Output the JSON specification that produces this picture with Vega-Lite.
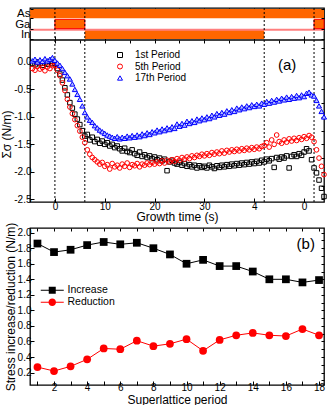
{
  "$schema": "https://vega.github.io/schema/vega-lite/v6.json",
  "padding": {"left": 0, "top": 1, "right": 2, "bottom": 0},
  "spacing": -2,
  "resolve": {"scale": {"color": "independent", "shape": "independent"}, "legend": {"color": "independent", "shape": "independent"}},
  "config": {
    "font": "Liberation Sans",
    "view": {"stroke": "black", "strokeWidth": 1.3},
    "axis": {"domain": false, "grid": false, "tickColor": "black", "tickSize": -4, "tickWidth": 1, "labelPadding": 3, "labelFontSize": 10, "labelColor": "black", "labelFont": "Liberation Sans", "titleFont": "Liberation Sans", "titleFontSize": 12, "titleFontWeight": "normal", "titleColor": "black", "titlePadding": 0}
  },
  "datasets": {
    "shutters": [
      {"s": "As", "t0": -5, "t1": 54},
      {"s": "In", "t0": 6, "t1": 42},
      {"s": "Ga", "t0": 0, "t1": 6},
      {"s": "Ga", "t0": 52, "t1": 54}
    ],
    "vlines": [{"t": 0}, {"t": 6}, {"t": 42}, {"t": 52}],
    "p1": [
      {"t":-4.5,"v":-0.02},{"t":-4,"v":-0.05},{"t":-3.5,"v":0.0},{"t":-3,"v":-0.03},{"t":-2.5,"v":-0.06},{"t":-2,"v":-0.02},{"t":-1.5,"v":-0.04},{"t":-1,"v":0.01},{"t":-0.5,"v":-0.03},{"t":0,"v":-0.03},
      {"t":0.5,"v":-0.12},{"t":1,"v":-0.22},{"t":1.5,"v":-0.33},{"t":2,"v":-0.47},{"t":2.5,"v":-0.6},{"t":3,"v":-0.74},{"t":3.5,"v":-0.84},{"t":4,"v":-0.95},{"t":4.5,"v":-1.04},{"t":5,"v":-1.14},
      {"t":5.5,"v":-1.25},{"t":6,"v":-1.35},{"t":6.5,"v":-1.32},{"t":7,"v":-1.42},{"t":7.5,"v":-1.37},{"t":8,"v":-1.45},{"t":8.5,"v":-1.41},{"t":9,"v":-1.48},{"t":9.5,"v":-1.44},{"t":10,"v":-1.5},
      {"t":10.5,"v":-1.47},{"t":11,"v":-1.53},{"t":11.5,"v":-1.5},{"t":12,"v":-1.56},{"t":12.5,"v":-1.53},{"t":13,"v":-1.58},{"t":13.5,"v":-1.62},{"t":14,"v":-1.57},{"t":14.5,"v":-1.63},{"t":15,"v":-1.65},
      {"t":15.5,"v":-1.6},{"t":16,"v":-1.67},{"t":16.5,"v":-1.7},{"t":17,"v":-1.64},{"t":17.5,"v":-1.72},{"t":18,"v":-1.69},{"t":18.5,"v":-1.74},{"t":19,"v":-1.71},{"t":19.5,"v":-1.76},{"t":20,"v":-1.73},
      {"t":20.5,"v":-1.78},{"t":21,"v":-1.75},{"t":21.5,"v":-1.8},{"t":22,"v":-1.77},{"t":22.5,"v":-1.98},{"t":23,"v":-1.82},{"t":23.5,"v":-1.79},{"t":24,"v":-1.84},{"t":24.5,"v":-1.86},{"t":25,"v":-1.83},
      {"t":25.5,"v":-1.88},{"t":26,"v":-1.85},{"t":26.5,"v":-1.9},{"t":27,"v":-1.87},{"t":27.5,"v":-1.91},{"t":28,"v":-1.88},{"t":28.5,"v":-1.93},{"t":29,"v":-1.89},{"t":29.5,"v":-1.92},{"t":30,"v":-1.9},
      {"t":30.5,"v":-1.93},{"t":31,"v":-1.88},{"t":31.5,"v":-1.91},{"t":32,"v":-1.94},{"t":32.5,"v":-1.89},{"t":33,"v":-1.92},{"t":33.5,"v":-1.88},{"t":34,"v":-1.91},{"t":34.5,"v":-1.87},{"t":35,"v":-1.9},
      {"t":35.5,"v":-1.86},{"t":36,"v":-1.89},{"t":36.5,"v":-1.85},{"t":37,"v":-1.88},{"t":37.5,"v":-1.84},{"t":38,"v":-1.87},{"t":38.5,"v":-1.83},{"t":39,"v":-1.86},{"t":39.5,"v":-1.82},{"t":40,"v":-1.85},
      {"t":40.5,"v":-1.81},{"t":41,"v":-1.84},{"t":41.5,"v":-1.79},{"t":42,"v":-1.82},{"t":42.5,"v":-1.77},{"t":43,"v":-1.8},{"t":43.5,"v":-1.76},{"t":44,"v":-1.92},{"t":44.5,"v":-1.74},{"t":45,"v":-1.77},
      {"t":45.5,"v":-1.73},{"t":46,"v":-1.75},{"t":46.5,"v":-1.71},{"t":47,"v":-1.93},{"t":47.5,"v":-1.72},{"t":48,"v":-1.69},{"t":48.5,"v":-1.72},{"t":49,"v":-1.67},{"t":49.5,"v":-1.7},{"t":50,"v":-1.64},
      {"t":50.5,"v":-1.58},{"t":51,"v":-1.62},{"t":51.5,"v":-1.78},{"t":52,"v":-1.93},{"t":52.5,"v":-2.02},{"t":53,"v":-2.15},{"t":53.5,"v":-2.3},{"t":54,"v":-2.45}
    ],
    "p5": [
      {"t":-4.5,"v":-0.12},{"t":-4,"v":-0.15},{"t":-3.5,"v":-0.08},{"t":-3,"v":-0.13},{"t":-2.5,"v":-0.1},{"t":-2,"v":-0.16},{"t":-1.5,"v":-0.09},{"t":-1,"v":-0.12},{"t":-0.5,"v":-0.07},{"t":0,"v":-0.06},
      {"t":0.5,"v":-0.15},{"t":1,"v":-0.25},{"t":1.5,"v":-0.38},{"t":2,"v":-0.52},{"t":2.5,"v":-0.68},{"t":3,"v":-0.82},{"t":3.5,"v":-0.94},{"t":4,"v":-1.05},{"t":4.5,"v":-1.16},{"t":5,"v":-1.26},
      {"t":5.5,"v":-1.37},{"t":6,"v":-1.47},{"t":6.5,"v":-1.6},{"t":7,"v":-1.68},{"t":7.5,"v":-1.74},{"t":8,"v":-1.78},{"t":8.5,"v":-1.82},{"t":9,"v":-1.86},{"t":9.5,"v":-1.83},{"t":10,"v":-1.9},
      {"t":10.5,"v":-1.87},{"t":11,"v":-1.95},{"t":11.5,"v":-1.85},{"t":12,"v":-1.91},{"t":12.5,"v":-1.88},{"t":13,"v":-1.93},{"t":13.5,"v":-1.86},{"t":14,"v":-1.9},{"t":14.5,"v":-1.84},{"t":15,"v":-1.92},
      {"t":15.5,"v":-1.87},{"t":16,"v":-1.89},{"t":16.5,"v":-1.85},{"t":17,"v":-1.91},{"t":17.5,"v":-1.86},{"t":18,"v":-1.88},{"t":18.5,"v":-1.84},{"t":19,"v":-1.87},{"t":19.5,"v":-1.83},{"t":20,"v":-1.86},
      {"t":20.5,"v":-1.82},{"t":21,"v":-1.85},{"t":21.5,"v":-1.8},{"t":22,"v":-1.84},{"t":22.5,"v":-1.79},{"t":23,"v":-1.82},{"t":23.5,"v":-1.78},{"t":24,"v":-1.81},{"t":24.5,"v":-1.76},{"t":25,"v":-1.79},
      {"t":25.5,"v":-1.74},{"t":26,"v":-1.77},{"t":26.5,"v":-1.73},{"t":27,"v":-1.76},{"t":27.5,"v":-1.71},{"t":28,"v":-1.74},{"t":28.5,"v":-1.7},{"t":29,"v":-1.72},{"t":29.5,"v":-1.68},{"t":30,"v":-1.71},
      {"t":30.5,"v":-1.67},{"t":31,"v":-1.7},{"t":31.5,"v":-1.65},{"t":32,"v":-1.68},{"t":32.5,"v":-1.64},{"t":33,"v":-1.67},{"t":33.5,"v":-1.62},{"t":34,"v":-1.66},{"t":34.5,"v":-1.61},{"t":35,"v":-1.64},
      {"t":35.5,"v":-1.6},{"t":36,"v":-1.63},{"t":36.5,"v":-1.59},{"t":37,"v":-1.62},{"t":37.5,"v":-1.58},{"t":38,"v":-1.61},{"t":38.5,"v":-1.57},{"t":39,"v":-1.6},{"t":39.5,"v":-1.56},{"t":40,"v":-1.59},
      {"t":40.5,"v":-1.55},{"t":41,"v":-1.58},{"t":41.5,"v":-1.54},{"t":42,"v":-1.52},{"t":42.5,"v":-1.47},{"t":43,"v":-1.55},{"t":43.5,"v":-1.42},{"t":44,"v":-1.5},{"t":44.5,"v":-1.33},{"t":45,"v":-1.45},
      {"t":45.5,"v":-1.48},{"t":46,"v":-1.42},{"t":46.5,"v":-1.46},{"t":47,"v":-1.4},{"t":47.5,"v":-1.44},{"t":48,"v":-1.39},{"t":48.5,"v":-1.43},{"t":49,"v":-1.38},{"t":49.5,"v":-1.41},{"t":50,"v":-1.36},
      {"t":50.5,"v":-1.39},{"t":51,"v":-1.34},{"t":51.5,"v":-1.37},{"t":52,"v":-1.45},{"t":52.5,"v":-1.6},{"t":53,"v":-1.75},{"t":53.5,"v":-1.9},{"t":54,"v":-2.05}
    ],
    "p17": [
      {"t":-4.5,"v":0.02},{"t":-4,"v":0.05},{"t":-3.5,"v":0.0},{"t":-3,"v":0.04},{"t":-2.5,"v":0.01},{"t":-2,"v":0.06},{"t":-1.5,"v":0.02},{"t":-1,"v":0.05},{"t":-0.5,"v":0.08},{"t":0,"v":0.03},
      {"t":0.5,"v":-0.02},{"t":1,"v":-0.06},{"t":1.5,"v":-0.12},{"t":2,"v":-0.19},{"t":2.5,"v":-0.25},{"t":3,"v":-0.31},{"t":3.5,"v":-0.4},{"t":4,"v":-0.5},{"t":4.5,"v":-0.59},{"t":5,"v":-0.68},
      {"t":5.5,"v":-0.8},{"t":6,"v":-0.92},{"t":6.5,"v":-1.0},{"t":7,"v":-1.06},{"t":7.5,"v":-1.1},{"t":8,"v":-1.16},{"t":8.5,"v":-1.2},{"t":9,"v":-1.24},{"t":9.5,"v":-1.27},{"t":10,"v":-1.3},
      {"t":10.5,"v":-1.33},{"t":11,"v":-1.35},{"t":11.5,"v":-1.37},{"t":12,"v":-1.39},{"t":12.5,"v":-1.36},{"t":13,"v":-1.4},{"t":13.5,"v":-1.37},{"t":14,"v":-1.39},{"t":14.5,"v":-1.35},{"t":15,"v":-1.38},
      {"t":15.5,"v":-1.34},{"t":16,"v":-1.37},{"t":16.5,"v":-1.33},{"t":17,"v":-1.36},{"t":17.5,"v":-1.31},{"t":18,"v":-1.34},{"t":18.5,"v":-1.29},{"t":19,"v":-1.32},{"t":19.5,"v":-1.27},{"t":20,"v":-1.29},
      {"t":20.5,"v":-1.24},{"t":21,"v":-1.27},{"t":21.5,"v":-1.22},{"t":22,"v":-1.25},{"t":22.5,"v":-1.2},{"t":23,"v":-1.23},{"t":23.5,"v":-1.18},{"t":24,"v":-1.21},{"t":24.5,"v":-1.13},{"t":25,"v":-1.17},
      {"t":25.5,"v":-1.12},{"t":26,"v":-1.15},{"t":26.5,"v":-1.08},{"t":27,"v":-1.12},{"t":27.5,"v":-1.07},{"t":28,"v":-1.1},{"t":28.5,"v":-1.04},{"t":29,"v":-1.07},{"t":29.5,"v":-1.02},{"t":30,"v":-1.05},
      {"t":30.5,"v":-1.0},{"t":31,"v":-1.03},{"t":31.5,"v":-0.97},{"t":32,"v":-1.0},{"t":32.5,"v":-0.94},{"t":33,"v":-0.97},{"t":33.5,"v":-0.92},{"t":34,"v":-0.95},{"t":34.5,"v":-0.89},{"t":35,"v":-0.92},
      {"t":35.5,"v":-0.87},{"t":36,"v":-0.9},{"t":36.5,"v":-0.84},{"t":37,"v":-0.87},{"t":37.5,"v":-0.82},{"t":38,"v":-0.85},{"t":38.5,"v":-0.8},{"t":39,"v":-0.83},{"t":39.5,"v":-0.78},{"t":40,"v":-0.81},
      {"t":40.5,"v":-0.77},{"t":41,"v":-0.8},{"t":41.5,"v":-0.75},{"t":42,"v":-0.77},{"t":42.5,"v":-0.72},{"t":43,"v":-0.75},{"t":43.5,"v":-0.7},{"t":44,"v":-0.73},{"t":44.5,"v":-0.68},{"t":45,"v":-0.71},
      {"t":45.5,"v":-0.66},{"t":46,"v":-0.69},{"t":46.5,"v":-0.64},{"t":47,"v":-0.68},{"t":47.5,"v":-0.63},{"t":48,"v":-0.66},{"t":48.5,"v":-0.61},{"t":49,"v":-0.65},{"t":49.5,"v":-0.6},{"t":50,"v":-0.63},
      {"t":50.5,"v":-0.57},{"t":51,"v":-0.55},{"t":51.5,"v":-0.6},{"t":52,"v":-0.62},{"t":52.5,"v":-0.7},{"t":53,"v":-0.8},{"t":53.5,"v":-0.9},{"t":54,"v":-1.0}
    ],
    "stress": [
      {"period":1,"measure":"Increase","value":1.86},{"period":2,"measure":"Increase","value":1.75},{"period":3,"measure":"Increase","value":1.78},{"period":4,"measure":"Increase","value":1.84},{"period":5,"measure":"Increase","value":1.88},{"period":6,"measure":"Increase","value":1.85},
      {"period":7,"measure":"Increase","value":1.87},{"period":8,"measure":"Increase","value":1.8},{"period":9,"measure":"Increase","value":1.72},{"period":10,"measure":"Increase","value":1.6},{"period":11,"measure":"Increase","value":1.65},{"period":12,"measure":"Increase","value":1.57},
      {"period":13,"measure":"Increase","value":1.57},{"period":14,"measure":"Increase","value":1.5},{"period":15,"measure":"Increase","value":1.4},{"period":16,"measure":"Increase","value":1.4},{"period":17,"measure":"Increase","value":1.36},{"period":18,"measure":"Increase","value":1.39},
      {"period":1,"measure":"Reduction","value":0.27},{"period":2,"measure":"Reduction","value":0.22},{"period":3,"measure":"Reduction","value":0.28},{"period":4,"measure":"Reduction","value":0.37},{"period":5,"measure":"Reduction","value":0.51},{"period":6,"measure":"Reduction","value":0.5},
      {"period":7,"measure":"Reduction","value":0.61},{"period":8,"measure":"Reduction","value":0.54},{"period":9,"measure":"Reduction","value":0.57},{"period":10,"measure":"Reduction","value":0.63},{"period":11,"measure":"Reduction","value":0.48},{"period":12,"measure":"Reduction","value":0.62},
      {"period":13,"measure":"Reduction","value":0.68},{"period":14,"measure":"Reduction","value":0.71},{"period":15,"measure":"Reduction","value":0.68},{"period":16,"measure":"Reduction","value":0.67},{"period":17,"measure":"Reduction","value":0.76},{"period":18,"measure":"Reduction","value":0.68}
    ]
  },
  "vconcat": [
    {
      "width": 294,
      "height": 194,
      "layer": [
        {
          "layer": [
            {
              "data": {"name": "shutters"},
              "transform": [{"filter": "datum.s != 'Ga'"}],
              "mark": {"type": "rect", "color": "#ff6600"},
              "encoding": {
                "x": {"field": "t0", "type": "quantitative", "scale": {"domain": [-5, 54], "nice": false, "zero": false}, "axis": {"orient": "top", "values": [0, 5, 10, 15, 20, 25, 30, 35, 40, 45, 50], "labels": false, "title": null, "tickSize": -3}},
                "x2": {"field": "t1"},
                "y": {"field": "s", "type": "nominal", "scale": {"domain": ["As", "Ga", "In"], "range": [0, 32], "paddingInner": 0.1, "paddingOuter": 0.1}, "axis": {"orient": "left", "title": null, "labelFontSize": 11.5, "tickBand": "extent", "tickSize": -3, "labelPadding": 3}}
              }
            },
            {
              "data": {"values": [{"s": "In"}]},
              "mark": {"type": "rule", "color": "#ff7f7f", "strokeWidth": 2},
              "encoding": {
                "y": {"field": "s", "type": "nominal", "bandPosition": 0, "axis": null}
              }
            },
            {
              "data": {"name": "shutters"},
              "transform": [{"filter": "datum.s == 'Ga'"}],
              "mark": {"type": "rect", "color": "#ff6600", "stroke": "red", "strokeWidth": 1},
              "encoding": {
                "x": {"field": "t0", "type": "quantitative", "axis": {"orient": "top", "offset": -32, "values": [0, 10, 20, 30, 40, 50], "labels": false, "title": null, "tickSize": 4}},
                "x2": {"field": "t1"},
                "y": {"field": "s", "type": "nominal", "axis": {"orient": "right", "labels": false, "title": null, "tickBand": "extent", "tickSize": -3}}
              }
            }
          ],
          "resolve": {"axis": {"x": "independent", "y": "independent"}}
        },
        {
          "layer": [
            {
              "data": {"name": "vlines"},
              "mark": {"type": "rule", "strokeDash": [2, 2], "strokeWidth": 1, "color": "black"},
              "encoding": {"x": {"field": "t", "type": "quantitative", "axis": null}}
            },
            {
              "data": {"values": [{"edge": 0.4}]},
              "mark": {"type": "rule", "strokeWidth": 1.3, "color": "black"},
              "encoding": {"y": {"field": "edge", "type": "quantitative", "axis": null}}
            },
            {
              "data": {"name": "p1"},
              "mark": {"type": "point", "filled": false, "size": 20, "strokeWidth": 1, "opacity": 1},
              "encoding": {
                "x": {"field": "t", "type": "quantitative", "axis": {"orient": "bottom", "values": [0, 10, 20, 30, 40, 50], "title": "Growth time (s)", "titlePadding": 0, "labelExpr": "datum.value == 40 ? '4' : datum.value == 50 ? '0' : datum.label"}},
                "y": {"field": "v", "type": "quantitative", "scale": {"domain": [-2.55, 0.4], "range": [194, 32], "nice": false, "zero": false}, "axis": {"orient": "left", "values": [0, -0.5, -1, -1.5, -2, -2.5], "format": ".1f", "labelExpr": "replace(datum.label, '\u2212', '-')", "title": "\u03a3\u03c3 (N/m)", "titleY": 126}},
                "color": {"datum": "1st Period", "type": "nominal", "scale": {"domain": ["1st Period", "5th Period", "17th Period"], "range": ["black", "red", "blue"]}, "legend": {"title": null, "orient": "none", "legendX": 85, "legendY": 42, "labelFontSize": 10, "symbolSize": 25, "rowPadding": 1.5, "labelOffset": 10, "symbolStrokeWidth": 1}},
                "shape": {"datum": "1st Period", "type": "nominal", "scale": {"domain": ["1st Period", "5th Period", "17th Period"], "range": ["square", "circle", "triangle-up"]}, "legend": {"title": null, "orient": "none", "legendX": 85, "legendY": 42, "labelFontSize": 10, "symbolSize": 25, "rowPadding": 1.5, "labelOffset": 10, "symbolStrokeWidth": 1}}
              }
            },
            {
              "data": {"name": "p5"},
              "mark": {"type": "point", "filled": false, "size": 22, "strokeWidth": 1, "opacity": 1},
              "encoding": {
                "x": {"field": "t", "type": "quantitative", "axis": null},
                "y": {"field": "v", "type": "quantitative", "axis": null},
                "color": {"datum": "5th Period", "type": "nominal"},
                "shape": {"datum": "5th Period", "type": "nominal"}
              }
            },
            {
              "data": {"name": "p17"},
              "mark": {"type": "point", "filled": false, "size": 26, "strokeWidth": 1, "opacity": 1, "fill": "#b8c0ff"},
              "encoding": {
                "x": {"field": "t", "type": "quantitative", "axis": {"orient": "top", "offset": -32, "values": [0, 5, 10, 15, 20, 25, 30, 35, 40, 45, 50], "labels": false, "title": null, "tickSize": -3}},
                "y": {"field": "v", "type": "quantitative", "axis": {"orient": "right", "values": [0.25, 0, -0.25, -0.5, -0.75, -1, -1.25, -1.5, -1.75, -2, -2.25, -2.5], "labels": false, "title": null, "tickSize": -3}},
                "color": {"datum": "17th Period", "type": "nominal"},
                "shape": {"datum": "17th Period", "type": "nominal"}
              }
            },
            {
              "data": {"values": [{"label": "(a)"}]},
              "mark": {"type": "text", "fontSize": 15, "font": "Liberation Sans", "color": "black"},
              "encoding": {
                "x": {"datum": 46.6, "type": "quantitative", "axis": null},
                "y": {"datum": -0.05, "type": "quantitative", "axis": null},
                "text": {"field": "label"}
              }
            }
          ],
          "resolve": {"axis": {"x": "independent", "y": "independent"}}
        }
      ],
      "resolve": {"scale": {"y": "independent"}, "axis": {"x": "independent", "y": "independent"}}
    },
    {
      "width": 294,
      "height": 157,
      "data": {"name": "stress"},
      "layer": [
        {
          "mark": {"type": "line", "strokeWidth": 1},
          "encoding": {
            "x": {"field": "period", "type": "quantitative", "scale": {"domain": [0.55, 18.3], "nice": false, "zero": false}, "axis": {"values": [1, 2, 3, 4, 5, 6, 7, 8, 9, 10, 11, 12, 13, 14, 15, 16, 17, 18], "labelExpr": "datum.value % 2 == 0 ? datum.label : ''", "title": "Superlattice period", "titlePadding": 2, "labelPadding": 1}},
            "y": {"field": "value", "type": "quantitative", "scale": {"domain": [0.04, 2.06], "nice": false, "zero": false}, "axis": {"values": [0.2, 0.4, 0.6, 0.8, 1.0, 1.2, 1.4, 1.6, 1.8, 2.0], "format": ".1f", "title": "Stress increase/reduction (N/m)"}},
            "color": {"field": "measure", "type": "nominal", "scale": {"domain": ["Increase", "Reduction"], "range": ["black", "red"]}, "legend": null}
          }
        },
        {
          "mark": {"type": "point", "filled": true, "size": 60, "opacity": 1},
          "encoding": {
            "x": {"field": "period", "type": "quantitative", "axis": {"orient": "top", "values": [1, 2, 3, 4, 5, 6, 7, 8, 9, 10, 11, 12, 13, 14, 15, 16, 17, 18], "labels": false, "title": null, "tickSize": -3}},
            "y": {"field": "value", "type": "quantitative", "axis": {"orient": "right", "values": [0.1, 0.2, 0.3, 0.4, 0.5, 0.6, 0.7, 0.8, 0.9, 1.0, 1.1, 1.2, 1.3, 1.4, 1.5, 1.6, 1.7, 1.8, 1.9, 2.0], "labels": false, "title": null, "tickSize": -3}},
            "color": {"field": "measure", "type": "nominal", "scale": {"domain": ["Increase", "Reduction"], "range": ["black", "red"]}, "legend": null},
            "shape": {"field": "measure", "type": "nominal", "scale": {"domain": ["Increase", "Reduction"], "range": ["square", "circle"]}, "legend": null}
          }
        },
        {
          "data": {"values": []},
          "mark": {"type": "point", "filled": true, "opacity": 1},
          "encoding": {
            "color": {"datum": "Increase", "type": "nominal", "scale": {"domain": ["Increase"], "range": ["black"]}, "legend": {"title": null, "orient": "none", "legendX": 17, "legendY": 57, "labelFontSize": 10.5, "symbolSize": 100, "labelOffset": 10, "symbolStrokeWidth": 0, "symbolOpacity": 1, "symbolType": "M-2.3,-0.1H2.3V0.1H-2.3Z M-0.7,-0.7H0.7V0.7H-0.7Z"}}
          }
        },
        {
          "data": {"values": []},
          "mark": {"type": "point", "filled": true, "opacity": 1},
          "encoding": {
            "color": {"datum": "Reduction", "type": "nominal", "scale": {"domain": ["Reduction"], "range": ["red"]}, "legend": {"title": null, "orient": "none", "legendX": 17, "legendY": 69, "labelFontSize": 10.5, "symbolSize": 100, "labelOffset": 10, "symbolStrokeWidth": 0, "symbolOpacity": 1, "symbolType": "M-2.3,-0.1H2.3V0.1H-2.3Z M0.75,0A0.75,0.75 0 1,1 -0.75,0A0.75,0.75 0 1,1 0.75,0Z"}}
          }
        },
        {
          "data": {"values": [{"label": "(b)"}]},
          "mark": {"type": "text", "fontSize": 15, "font": "Liberation Sans", "color": "black"},
          "encoding": {
            "x": {"datum": 17.2, "type": "quantitative", "axis": null},
            "y": {"datum": 1.86, "type": "quantitative", "axis": null},
            "text": {"field": "label"}
          }
        }
      ],
      "resolve": {"scale": {"color": "independent"}, "legend": {"color": "independent"}, "axis": {"x": "independent", "y": "independent"}}
    }
  ]
}
